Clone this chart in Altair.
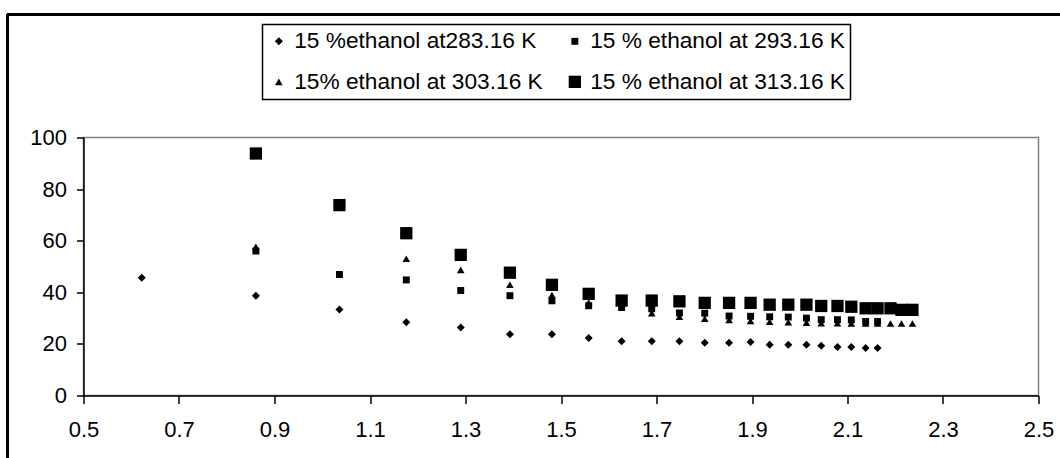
import altair as alt
import pandas as pd

# Series labels
s283 = "15 %ethanol at283.16 K"
s293 = "15 % ethanol at 293.16 K"
s303 = "15% ethanol at 303.16 K"
s313 = "\u00a015 % ethanol at 313.16 K"

# Legend fills column by column: left column 283/303, right column 293/313
legend_order = [s283, s303, s293, s313]
marker_shapes = ["diamond", "triangle-up", "square", "square"]
marker_sizes = [64, 58, 48, 151]

x_283 = [0.622, 0.861, 1.036, 1.176, 1.290, 1.393, 1.481, 1.558, 1.627, 1.690, 1.748,
         1.801, 1.852, 1.897, 1.937, 1.976, 2.014, 2.045, 2.079, 2.108, 2.138, 2.163]
y_283 = [45.6, 38.7, 33.3, 28.4, 26.4, 23.7, 23.7, 22.3, 21.0, 21.0, 21.0,
         20.4, 20.4, 20.7, 19.7, 19.7, 19.7, 19.3, 18.8, 18.8, 18.4, 18.4]

x_293 = [0.861, 1.036, 1.176, 1.290, 1.393, 1.481, 1.558, 1.627, 1.690, 1.748, 1.801,
         1.852, 1.897, 1.937, 1.976, 2.014, 2.045, 2.079, 2.108, 2.138, 2.163]
y_293 = [56.0, 46.9, 44.8, 40.7, 38.7, 36.7, 34.8, 34.3, 33.6, 32.0, 31.9,
         30.8, 30.7, 30.5, 30.4, 30.0, 29.4, 29.4, 29.3, 28.7, 28.7]

x_303 = [0.861, 1.176, 1.290, 1.393, 1.481, 1.558, 1.627, 1.690, 1.748, 1.801, 1.852,
         1.897, 1.937, 1.976, 2.014, 2.045, 2.079, 2.108, 2.138, 2.163, 2.190, 2.213, 2.236]
y_303 = [57.6, 53.0, 48.7, 42.9, 38.9, 36.0, 34.0, 31.9, 30.5, 29.8, 29.3,
         28.9, 28.6, 28.4, 28.2, 28.0, 28.0, 27.9, 27.9, 27.9, 27.9, 27.9, 27.9]

x_313 = [0.861, 1.036, 1.176, 1.290, 1.393, 1.481, 1.558, 1.627, 1.690, 1.748, 1.801,
         1.852, 1.897, 1.937, 1.976, 2.014, 2.045, 2.079, 2.108, 2.138, 2.163, 2.190,
         2.213, 2.236]
y_313 = [93.8, 73.8, 62.9, 54.5, 47.6, 42.9, 39.4, 36.8, 36.8, 36.5, 35.9,
         35.9, 35.9, 35.2, 35.2, 35.2, 34.7, 34.7, 34.4, 33.8, 33.8, 33.8,
         33.2, 33.2]

x_ticks = [0.5, 0.7, 0.9, 1.1, 1.3, 1.5, 1.7, 1.9, 2.1, 2.3, 2.5]
y_ticks = [0, 20, 40, 60, 80, 100]

# Rows in drawing order: 283.16 first, 313.16 last (on top)
frames = []
for name, xs, ys in [(s283, x_283, y_283), (s293, x_293, y_293),
                     (s303, x_303, y_303), (s313, x_313, y_313)]:
    frames.append(pd.DataFrame({"x": xs, "y": ys, "series": name}))
df = pd.concat(frames, ignore_index=True)

FONT = "Liberation Sans"
W, H = 955, 258

points = alt.Chart(df).mark_point(filled=True, opacity=1, strokeWidth=0).encode(
    x=alt.X("x:Q", scale=alt.Scale(domain=[0.5, 2.5], nice=False, zero=False),
            axis=alt.Axis(values=x_ticks, format=".1f", title=None, grid=False,
                          labelFlush=False, tickSize=8, labelPadding=16)),
    y=alt.Y("y:Q", scale=alt.Scale(domain=[0, 100], nice=False),
            axis=alt.Axis(values=y_ticks, title=None, grid=False,
                          tickSize=7, labelPadding=10)),
    shape=alt.Shape("series:N", title=None,
                    scale=alt.Scale(domain=legend_order, range=marker_shapes)),
    size=alt.Size("series:N", title=None,
                  scale=alt.Scale(type="ordinal", domain=legend_order, range=marker_sizes)),
    color=alt.value("black"),
    order=alt.Order("idx:Q"),
).transform_window(idx="row_number()")

# Outer chart frame (left and top edges)
frame_left = alt.Chart(df).mark_rule(color="black", strokeWidth=1.5).encode(
    x=alt.value(-76), y=alt.value(-123), y2=alt.value(H + 80)
)
frame_top = alt.Chart(df).mark_rule(color="black", strokeWidth=1.5).encode(
    x=alt.value(-76), x2=alt.value(W + 40), y=alt.value(-123)
)

chart = alt.layer(frame_left, frame_top, points).properties(
    width=W,
    height=H,
    autosize=alt.AutoSizeParams(type="none"),
    padding={"left": 83.5, "top": 137.5, "right": 21.5, "bottom": 62.5},
    background="white",
).configure_view(
    stroke="#808080", strokeWidth=1.5
).configure_axis(
    labelFont=FONT, labelFontSize=22, labelColor="black",
    domainColor="black", domainWidth=1.5, tickColor="black", tickWidth=1.5,
).configure_legend(
    orient="none", legendX=179, legendY=-113, columns=2,
    labelFont=FONT, labelFontSize=22.7, labelColor="black", labelLimit=400,
    labelOffset=4, columnPadding=20, rowPadding=17, padding=5,
    strokeColor="black", strokeWidth=1.5, fillColor="white",
    symbolFillColor="black", symbolStrokeWidth=0, gridAlign="each",
)

chart.save("out.html", embed_options={"renderer": "svg", "actions": False})
